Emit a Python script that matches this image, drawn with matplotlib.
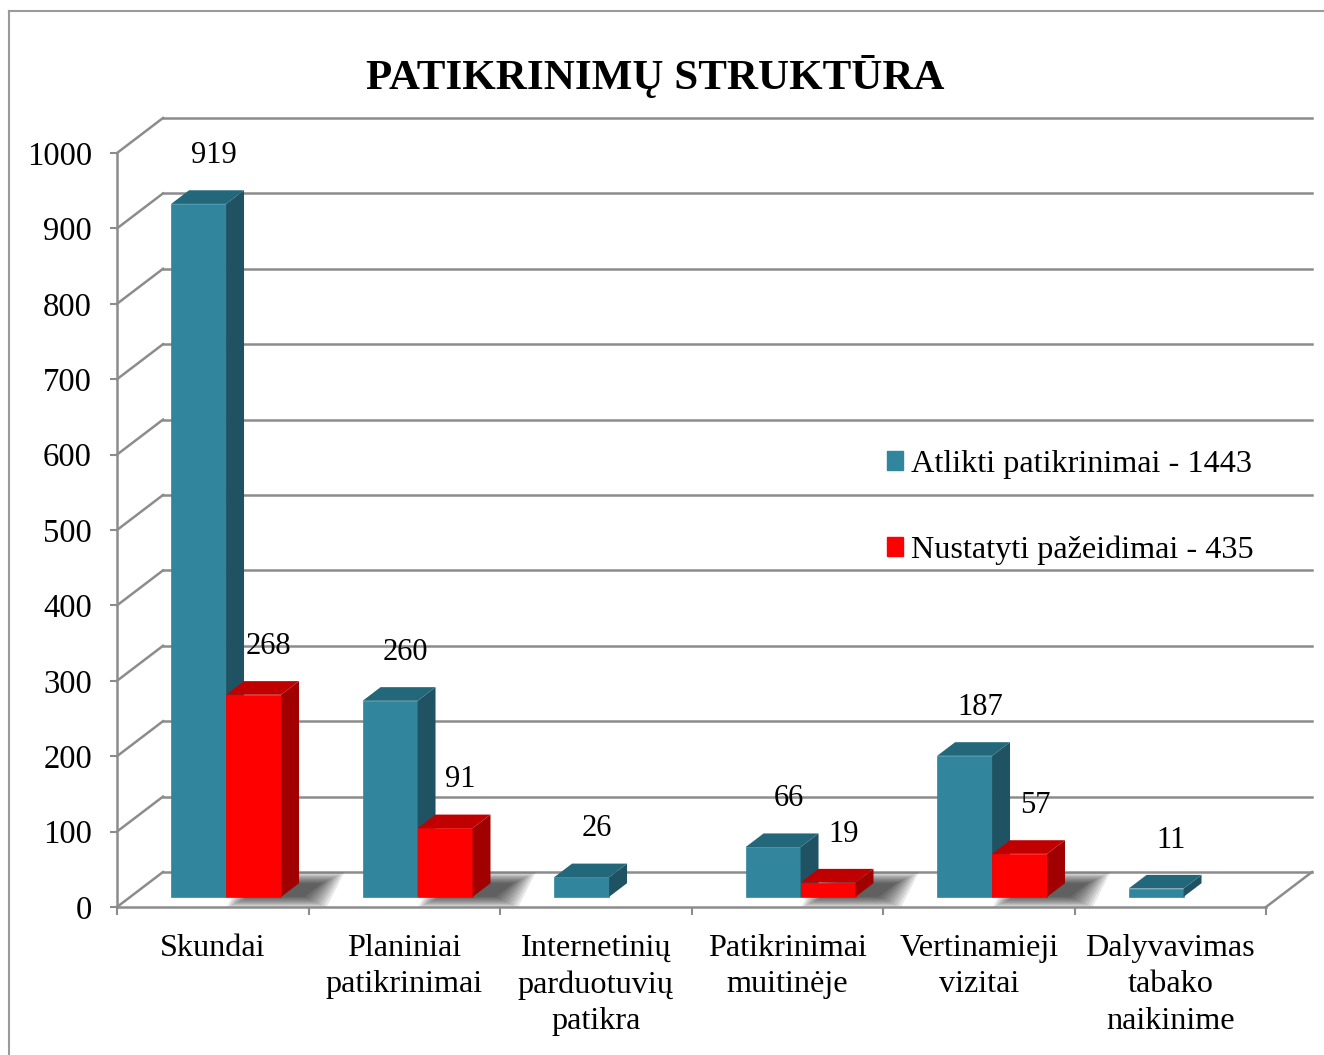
import matplotlib.pyplot as plt
from matplotlib.patches import Polygon, Patch
from matplotlib.lines import Line2D

categories = ["Skundai", "Planiniai\npatikrinimai", "Internetinių\nparduotuvių\npatikra",
              "Patikrinimai\nmuitinėje", "Vertinamieji\nvizitai", "Dalyvavimas\ntabako\nnaikinime"]
atlikti = [919, 260, 26, 66, 187, 11]
nustatyti = [268, 91, 0, 19, 57, 0]
series_names = ["Atlikti patikrinimai - 1443", "Nustatyti pažeidimai - 435"]
yticks = list(range(0, 1001, 100))

plt.rcParams['font.family'] = ['Liberation Serif', 'DejaVu Serif']

W, H = 1324, 1055
fig = plt.figure(figsize=(W / 100, H / 100), dpi=100)
ax = fig.add_axes([117 / W, 148 / H, 1149 / W, 754 / H])
ax.set_xlim(0, len(categories))
ax.set_ylim(0, 1000)

# fake 3d: depth of the box in data units (about 46 px right, 35 px up)
DX = 46 / 191.5
DY = 35 / 0.754
d0, dd = 0.29, 0.39   # bar plane and bar depth as part of the full depth
bw = 0.287
grid_c = '#8c8c8c'
n = len(categories)

# back wall and side wall
for t in yticks:
    ax.plot([0, DX], [t, t + DY], color=grid_c, lw=1.8, clip_on=False, zorder=1)
    ax.plot([DX, n + DX], [t + DY, t + DY], color=grid_c, lw=1.8, clip_on=False, zorder=1)
ax.plot([n, n + DX], [0, DY], color=grid_c, lw=1.8, clip_on=False, zorder=1)

colors = [('#31859c', '#23687a', '#1f5363'),
          ('#ff0000', '#c00000', '#a00000')]


def shadow(x, h):
    x0 = x + DX * d0
    y0 = DY * d0
    ddx, ddy = DX * dd, DY * dd
    s = 0.12
    for k in range(10):
        e = 0.013 * k
        ey = 1.6 * k
        pts = [(x0 + s - e, y0 - ey), (x0 + bw + s + e, y0 - ey),
               (x0 + bw + s + ddx + e, y0 + ddy + ey), (x0 + s + ddx - e, y0 + ddy + ey)]
        ax.add_patch(Polygon(pts, closed=True, fc='black', ec='none', alpha=0.09,
                             clip_on=False, zorder=2))


def box(x, h, front, top, side):
    x0 = x + DX * d0
    y0 = DY * d0
    ddx, ddy = DX * dd, DY * dd
    ax.bar(x0, h, bw, bottom=y0, align='edge', color=front, edgecolor=front,
           lw=0.5, clip_on=False, zorder=3)
    ax.add_patch(Polygon([(x0 + bw, y0), (x0 + bw + ddx, y0 + ddy),
                          (x0 + bw + ddx, y0 + h + ddy), (x0 + bw, y0 + h)],
                         closed=True, fc=side, ec='none', clip_on=False, zorder=3))
    ax.add_patch(Polygon([(x0, y0 + h), (x0 + bw, y0 + h),
                          (x0 + bw + ddx, y0 + h + ddy), (x0 + ddx, y0 + h + ddy)],
                         closed=True, fc=top, ec='none', clip_on=False, zorder=3))


for i in range(n):
    if nustatyti[i] > 0:
        shadow(i + 0.5, nustatyti[i])

for i in range(n):
    for j, vals in enumerate([atlikti, nustatyti]):
        v = vals[i]
        if v <= 0:
            continue
        x = i + 0.5 - bw + j * bw
        box(x, v, *colors[j])
        ax.text(x + DX * d0 + bw / 2 + 0.08, v + DY * d0 + 64, str(v),
                ha='center', va='center', fontsize=22, zorder=5)

# axes look
for sp in ['top', 'right']:
    ax.spines[sp].set_visible(False)
for sp in ['left', 'bottom']:
    ax.spines[sp].set_color(grid_c)
    ax.spines[sp].set_linewidth(1.8)
ax.set_yticks(yticks)
ax.tick_params(axis='y', direction='out', length=5, width=1.5, color=grid_c,
               labelsize=23.5, pad=13)
ax.set_xticks(range(n + 1))
ax.set_xticklabels([])
ax.set_xticks([i + 0.5 for i in range(n)], minor=True)
ax.set_xticklabels(categories, minor=True, fontsize=23.2, linespacing=1.33)
ax.tick_params(axis='x', which='major', direction='out', length=6, width=1.5, color=grid_c)
ax.tick_params(axis='x', which='minor', length=0, pad=19.5)
ax.patch.set_alpha(0)

fig.text(655 / W, 1 - 76 / H, "PATIKRINIMŲ STRUKTŪRA", ha='center', va='center',
         fontsize=31, fontweight='bold')

handles = [Patch(color=colors[0][0]), Patch(color=colors[1][0])]
ax.legend(handles, series_names, loc='upper left', bbox_to_anchor=(887 / W, 1 - 450 / H),
          bbox_transform=fig.transFigure, frameon=False, fontsize=23.2,
          handlelength=0.5, handleheight=0.5, handletextpad=0.25, labelspacing=1.75,
          borderpad=0, borderaxespad=0)

# outer chart border
fig.add_artist(Line2D([9 / W, 9 / W], [0, 1 - 11 / H], color='#9a9a9a', lw=1.5))
fig.add_artist(Line2D([9 / W, 1], [1 - 11 / H, 1 - 11 / H], color='#9a9a9a', lw=1.5))

fig.savefig("out.png", dpi=100)
